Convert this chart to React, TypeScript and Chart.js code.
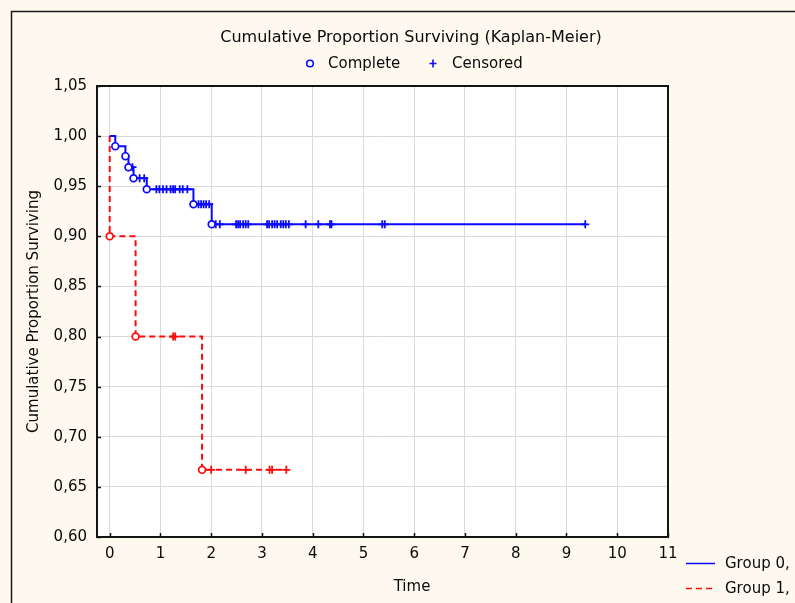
import React, { useEffect, useRef } from 'react';
import { Chart, registerables } from 'chart.js';

Chart.register(...registerables);

// ---- Data ----
const xTicks = [0, 1, 2, 3, 4, 5, 6, 7, 8, 9, 10, 11];
const yTicks = [0.6, 0.65, 0.7, 0.75, 0.8, 0.85, 0.9, 0.95, 1.0, 1.05];

// Group 0: step curve (time, cumulative proportion surviving)
const group0Times = [0, 0.11, 0.31, 0.37, 0.47, 0.73, 1.65, 2.01, 9.37];
const group0Surv = [1.0, 0.99, 0.98, 0.969, 0.958, 0.947, 0.932, 0.912, 0.912];
// Group 0: complete (event) times
const group0Complete = [0.11, 0.31, 0.37, 0.47, 0.73, 1.65, 2.01];
// Group 0: censored times
const group0Censored = [
  0.45, 0.59, 0.68,
  0.92, 0.98, 1.05, 1.12, 1.2, 1.25, 1.29, 1.38, 1.44, 1.53,
  1.75, 1.8, 1.85, 1.9, 1.96,
  2.09, 2.17, 2.49, 2.53, 2.57, 2.63, 2.68, 2.73,
  3.1, 3.14, 3.2, 3.25, 3.3, 3.37, 3.42, 3.47, 3.53,
  3.86, 4.11, 4.34, 4.37, 5.37, 5.42, 9.37,
];

// Group 1
const group1Times = [0, 0, 0.51, 1.82, 3.48];
const group1Surv = [1.0, 0.9, 0.8, 0.667, 0.667];
const group1Complete = [0, 0.51, 1.82];
const group1Censored = [1.25, 1.29, 2.0, 2.68, 3.15, 3.2, 3.48];

const titleText = 'Cumulative Proportion Surviving (Kaplan-Meier)';
const legendLabels = ['Complete', 'Censored'];
const groupLabels = ['Group 0,', 'Group 1,'];
const xTitle = 'Time';
const yTitle = 'Cumulative Proportion Surviving';

// ---- Styles ----
const BLUE = '#0a0aff';
const RED = '#ff0a0a';
const CREAM = '#fdf9ef';
const FONT = 'DejaVu Sans';
const TEXT = '#0a0a0a';

function survAt(times: number[], surv: number[], t: number): number {
  let s = surv[0];
  for (let i = 0; i < times.length; i++) {
    if (times[i] <= t) s = surv[i];
  }
  return s;
}

const decorPlugin = {
  id: 'decor',
  beforeDraw(chart: any) {
    const { ctx, chartArea: a, width, height } = chart;
    ctx.save();
    ctx.fillStyle = CREAM;
    ctx.fillRect(0, 0, width, height);
    ctx.fillStyle = '#ffffff';
    ctx.fillRect(a.left, a.top, a.right - a.left, a.bottom - a.top);
    ctx.strokeStyle = '#1a1a1a';
    ctx.lineWidth = 1.5;
    ctx.beginPath();
    ctx.moveTo(11.5, height);
    ctx.lineTo(11.5, 11.5);
    ctx.lineTo(width, 11.5);
    ctx.stroke();
    ctx.restore();
  },
  afterDraw(chart: any) {
    const { ctx, chartArea: a, scales } = chart;
    ctx.save();
    // plot border
    ctx.strokeStyle = '#141414';
    ctx.lineWidth = 2;
    ctx.strokeRect(a.left, a.top, a.right - a.left, a.bottom - a.top);
    // inward tick marks
    ctx.lineWidth = 1.5;
    ctx.beginPath();
    for (const v of xTicks) {
      const px = Math.round(scales.x.getPixelForValue(v)) + 0.5;
      ctx.moveTo(px, a.bottom);
      ctx.lineTo(px, a.bottom - 4);
    }
    for (const v of yTicks) {
      const py = Math.round(scales.y.getPixelForValue(v)) + 0.5;
      ctx.moveTo(a.left, py);
      ctx.lineTo(a.left + 4, py);
    }
    ctx.stroke();

    ctx.fillStyle = TEXT;
    ctx.textBaseline = 'middle';
    // title
    ctx.font = `16px "${FONT}"`;
    ctx.textAlign = 'center';
    ctx.fillText(titleText, 411, 38);

    // top legend
    ctx.font = `15px "${FONT}"`;
    ctx.textAlign = 'left';
    ctx.strokeStyle = BLUE;
    ctx.lineWidth = 1.6;
    ctx.fillStyle = '#ffffff';
    ctx.beginPath();
    ctx.arc(310, 63.5, 3.3, 0, Math.PI * 2);
    ctx.fill();
    ctx.stroke();
    ctx.beginPath();
    ctx.moveTo(429.5, 63.5);
    ctx.lineTo(436.5, 63.5);
    ctx.moveTo(433, 59.5);
    ctx.lineTo(433, 67.5);
    ctx.stroke();
    ctx.fillStyle = TEXT;
    ctx.fillText(legendLabels[0], 328, 64);
    ctx.fillText(legendLabels[1], 452, 64);

    // x title
    ctx.textAlign = 'center';
    ctx.fillText(xTitle, 412, 587);

    // group legend
    ctx.textAlign = 'left';
    ctx.lineWidth = 1.5;
    ctx.strokeStyle = BLUE;
    ctx.beginPath();
    ctx.moveTo(686, 563.5);
    ctx.lineTo(715, 563.5);
    ctx.stroke();
    ctx.strokeStyle = RED;
    ctx.setLineDash([6, 4]);
    ctx.beginPath();
    ctx.moveTo(686, 588.5);
    ctx.lineTo(715, 588.5);
    ctx.stroke();
    ctx.setLineDash([]);
    ctx.fillStyle = TEXT;
    ctx.fillText(groupLabels[0], 725, 564);
    ctx.fillText(groupLabels[1], 725, 589);
    ctx.restore();
  },
};

export default function App() {
  const ref = useRef<HTMLCanvasElement | null>(null);

  useEffect(() => {
    if (!ref.current) return;
    Chart.defaults.font.family = FONT;
    Chart.defaults.color = TEXT;

    const line0 = group0Times.map((t, i) => ({ x: t, y: group0Surv[i] }));
    const line1 = group1Times.map((t, i) => ({ x: t, y: group1Surv[i] }));
    const comp0 = group0Complete.map((t) => ({ x: t, y: survAt(group0Times, group0Surv, t) }));
    const cens0 = group0Censored.map((t) => ({ x: t, y: survAt(group0Times, group0Surv, t) }));
    const comp1 = group1Complete.map((t) => ({ x: t, y: survAt(group1Times, group1Surv, t) }));
    const cens1 = group1Censored.map((t) => ({ x: t, y: survAt(group1Times, group1Surv, t) }));

    const chart = new Chart(ref.current, {
      type: 'line',
      data: {
        datasets: [
          {
            label: 'Group 0 Complete',
            data: comp0,
            showLine: false,
            pointStyle: 'circle',
            pointRadius: 3.4,
            pointBorderWidth: 1.7,
            pointBorderColor: BLUE,
            pointBackgroundColor: '#ffffff',
            order: 1,
          },
          {
            label: 'Group 0 Censored',
            data: cens0,
            showLine: false,
            pointStyle: 'cross',
            pointRadius: 4,
            pointBorderWidth: 1.8,
            pointBorderColor: BLUE,
            order: 1,
          },
          {
            label: 'Group 1 Complete',
            data: comp1,
            showLine: false,
            pointStyle: 'circle',
            pointRadius: 3.4,
            pointBorderWidth: 1.7,
            pointBorderColor: RED,
            pointBackgroundColor: '#ffffff',
            order: 1,
          },
          {
            label: 'Group 1 Censored',
            data: cens1,
            showLine: false,
            pointStyle: 'cross',
            pointRadius: 4,
            pointBorderWidth: 1.8,
            pointBorderColor: RED,
            order: 1,
          },
          {
            label: 'Group 0',
            data: line0,
            stepped: true,
            borderColor: BLUE,
            borderWidth: 2,
            pointRadius: 0,
            fill: false,
            order: 2,
          },
          {
            label: 'Group 1',
            data: line1,
            stepped: true,
            borderColor: RED,
            borderWidth: 2,
            borderDash: [6, 4],
            pointRadius: 0,
            fill: false,
            order: 3,
          },
        ],
      },
      options: {
        animation: false,
        responsive: false,
        devicePixelRatio: 1,
        layout: { padding: { left: 0, right: 127, top: 86, bottom: 36 } },
        plugins: {
          legend: { display: false },
          title: { display: false },
          tooltip: { enabled: false },
        },
        scales: {
          x: {
            type: 'linear',
            min: -0.25,
            max: 11,
            afterBuildTicks: (s: any) => {
              s.ticks = xTicks.map((v) => ({ value: v }));
            },
            afterFit: (s: any) => {
              s.height = 30;
            },
            ticks: {
              autoSkip: false,
              maxRotation: 0,
              padding: 8,
              color: TEXT,
              font: { size: 15, family: FONT },
              callback: (v: any) => String(v),
            },
            grid: { color: '#d9d9d9', lineWidth: 1, drawTicks: false },
            border: { display: false },
          },
          y: {
            type: 'linear',
            min: 0.6,
            max: 1.05,
            afterBuildTicks: (s: any) => {
              s.ticks = yTicks.map((v) => ({ value: v }));
            },
            afterFit: (s: any) => {
              s.width = 97;
            },
            ticks: {
              autoSkip: false,
              padding: 10,
              color: TEXT,
              font: { size: 15, family: FONT },
              callback: (v: any) => Number(v).toFixed(2).replace('.', ','),
            },
            grid: { color: '#d9d9d9', lineWidth: 1, drawTicks: false },
            border: { display: false },
            title: {
              display: true,
              text: yTitle,
              color: TEXT,
              font: { size: 15, family: FONT },
              padding: { top: 25, bottom: 0 },
            },
          },
        },
      },
      plugins: [decorPlugin],
    } as any);

    return () => chart.destroy();
  }, []);

  return (
    <div style={{ position: 'fixed', left: 0, top: 0, width: 795, height: 603, overflow: 'hidden' }}>
      <canvas ref={ref} width={795} height={603} style={{ width: 795, height: 603, display: 'block' }} />
    </div>
  );
}
